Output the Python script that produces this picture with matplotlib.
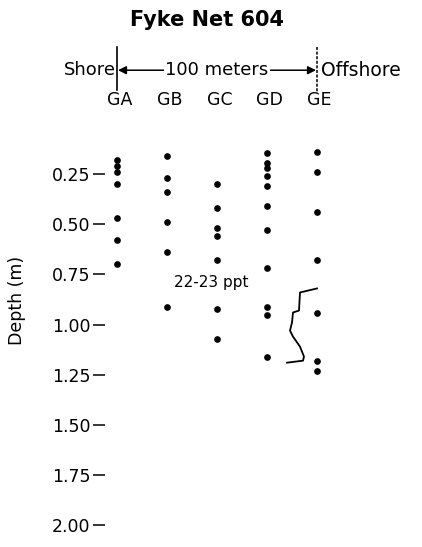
import matplotlib.pyplot as plt

plt.rcParams['font.family'] = ['DejaVu Sans']

# Sampling stations from shore to offshore
stations = ['GA', 'GB', 'GC', 'GD', 'GE']
station_x = [1, 2, 3, 4, 5]

# Sample depths (m) at each station
ga = [0.18, 0.21, 0.24, 0.30, 0.47, 0.58, 0.70]
gb = [0.16, 0.27, 0.34, 0.49, 0.64, 0.91]
gc = [0.30, 0.42, 0.52, 0.56, 0.68, 0.92, 1.07]
gd = [0.145, 0.195, 0.22, 0.26, 0.31, 0.41, 0.53, 0.72, 0.91, 0.95, 1.16]
ge = [0.14, 0.24, 0.44, 0.68, 0.94, 1.18, 1.23]
depths = [ga, gb, gc, gd, ge]

# hand-drawn salinity trace near GD/GE
trace_x = [5.0, 4.66, 4.64, 4.52, 4.50, 4.46, 4.52, 4.66, 4.74, 4.72, 4.40]
trace_d = [0.82, 0.84, 0.93, 0.94, 0.99, 1.03, 1.06, 1.11, 1.16, 1.18, 1.19]

depth_ticks = [0.25, 0.50, 0.75, 1.00, 1.25, 1.50, 1.75, 2.00]

fig = plt.figure(figsize=(4.22, 5.47), dpi=100)
ax = fig.add_axes([105 / 422, 1 - 540 / 547, 240 / 422, 540 / 547])

for x, d in zip(station_x, depths):
    ax.plot([x] * len(d), d, 'o', color='black', markersize=3.8, linestyle='none')

ax.plot(trace_x, trace_d, color='black', lw=1.3)
ax.text(2.88, 0.79, '22-23 ppt', ha='center', va='center', fontsize=11)

ax.set_xlim(0.76, 5.56)
ax.set_ylim(2.074, -0.618)
ax.set_xticks([])
ax.set_yticks(depth_ticks)
ax.set_yticklabels(['%.2f' % t for t in depth_ticks], fontsize=12.5)
ax.tick_params(axis='y', length=8.5, width=1.1, pad=2, direction='out')
for s in ax.spines.values():
    s.set_visible(False)
ax.set_ylabel('Depth (m)', fontsize=12.5)
ax.yaxis.set_label_coords(-0.33, (2.074 - 0.88) / (2.074 + 0.618))

# header: station names, distance arrow, title
for x, name in zip(station_x, stations):
    ax.text(x + 0.05, -0.12, name, ha='center', va='center', fontsize=12.5)
ax.plot([1, 1], [-0.384, -0.17], color='black', lw=1.2)
ax.plot([5, 5], [-0.384, -0.16], color='black', lw=1.1, ls=(0, (2, 1)))
ax.annotate('', xy=(1.02, -0.268), xytext=(4.98, -0.268),
            arrowprops=dict(arrowstyle='<|-|>', color='black', lw=1.1,
                            mutation_scale=12, shrinkA=0, shrinkB=0))
ax.text(3.0, -0.268, '100 meters', ha='center', va='center', fontsize=13,
        bbox=dict(facecolor='white', edgecolor='none', pad=1))
ax.text(0.97, -0.268, 'Shore', ha='right', va='center', fontsize=13)
ax.text(5.08, -0.268, 'Offshore', ha='left', va='center', fontsize=13.5)
ax.text(2.8, -0.52, 'Fyke Net 604', ha='center', va='center', fontsize=15,
        fontweight='bold')

fig.savefig('out.png', dpi=100)
